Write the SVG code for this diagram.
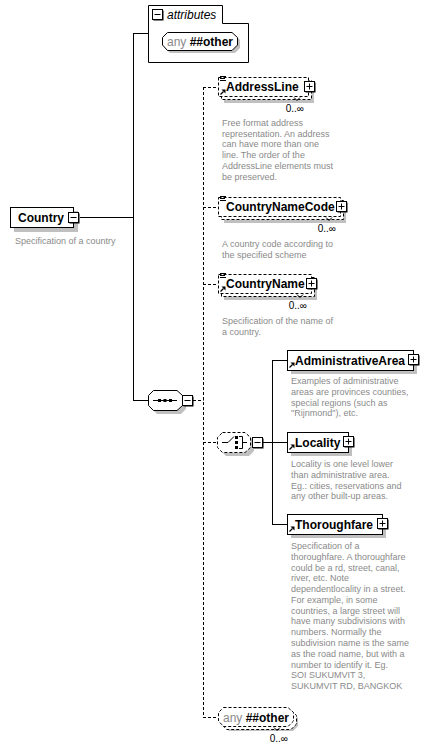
<svg xmlns="http://www.w3.org/2000/svg" xmlns:xlink="http://www.w3.org/1999/xlink" width="428" height="751" viewBox="0 0 428 751">
<style>
.box{fill:#fff;stroke:#000;stroke-width:1}
.dash{stroke-dasharray:3,2}
.shadow{fill:#c0c0c0}
.name{font-family:"Liberation Sans",Arial,sans-serif;font-weight:bold;font-size:12px;fill:#000}
.desc{font-family:"Liberation Sans",Arial,sans-serif;font-size:9px;fill:#8a8a8a}
.mult{font-family:"Liberation Sans",Arial,sans-serif;font-size:10px;fill:#000}
.any{font-family:"Liberation Sans",Arial,sans-serif;font-size:12px;fill:#8a8a8a}
.line{stroke:#000;fill:none;stroke-width:1}
.dline{stroke:#000;fill:none;stroke-width:1;stroke-dasharray:3,2}
.ico{stroke:#000;fill:none;stroke-width:1}
</style>
<defs>
<g id="plusIcon"><rect x="1.5" y="1.5" width="10" height="10" fill="#000"/><rect x="0.5" y="0.5" width="10" height="10" fill="#fff" stroke="#000"/><path d="M2.5,5.5H8.5M5.5,2.5V8.5" stroke="#000"/></g>
<g id="minusIcon"><rect x="1.5" y="1.5" width="10" height="10" fill="#000"/><rect x="0.5" y="0.5" width="10" height="10" fill="#fff" stroke="#000"/><path d="M2.5,5.5H8.5" stroke="#000"/></g>
<g id="lines"><path d="M0,0.5H6M0,2.5H5M0,4.5H6" stroke="#000" stroke-width="1"/></g>
<g id="refArrow"><path d="M0.5,5.5L3.5,2.5" stroke="#000" stroke-width="1.2"/><path d="M1.5,0.5H5.5V4.5Z" fill="#000"/></g>
</defs>

<g id="connectors">
<path class="line" d="M80,217.5H133.5M133.5,33V400.5M133,33.5H148M133,400.5H148"/>
<path class="dline" d="M193,400.5H203.5M203.5,87V717.5M203,87.5H218M203,207.5H218M203,284.5H218M203,442.5H217M203,717.5H218"/>
<path class="line" d="M263,442.5H272.5M272.5,360V524.5M272,360.5H287M272,442.5H287M272,524.5H287"/>
</g>

<g id="Country">
<rect class="shadow" x="14" y="211" width="64" height="21"/>
<rect class="box" x="10.5" y="207.5" width="63" height="20"/>
<text class="name" x="18" y="222">Country</text>
<use xlink:href="#minusIcon" x="68" y="212"/>
<text class="desc" x="15" y="244">Specification of a country</text>
</g>

<g id="attributes">
<path class="box" d="M148.5,5.5H222.5V23.5H248.5V62.5H148.5Z"/>
<use xlink:href="#minusIcon" x="152" y="9"/>
<text x="167" y="19" style="font-family:'Liberation Sans',Arial,sans-serif;font-style:italic;font-size:12px">attributes</text>
<path class="shadow" d="M170,35H235L240,40V48L235,53H170L165,48V40Z"/>
<path class="box" d="M167.5,32.5H232L237.5,37.5V45L232,50.5H167.5L162.5,45V37.5Z"/>
<text x="167" y="46"><tspan class="any">any </tspan><tspan class="name">##other</tspan></text>
</g>

<g id="sequence">
<path class="shadow" d="M157,394H181L186,399V409L181,414H157L152,409V399Z"/>
<path class="box" d="M153.5,390.5H177L182.5,395.5V405.5L177,410.5H153.5L148.5,405.5V395.5Z"/>
<path class="ico" d="M153,400.5H177"/>
<rect x="158" y="399" width="3" height="3" fill="#000"/>
<rect x="163.5" y="399" width="3" height="3" fill="#000"/>
<rect x="169" y="399" width="3" height="3" fill="#000"/>
<use xlink:href="#minusIcon" x="182" y="395"/>
</g>

<g id="AddressLine">
<rect class="shadow" x="224" y="83" width="90" height="20"/>
<rect class="box dash" x="221.5" y="80.5" width="90" height="19"/>
<rect class="box dash" x="218.5" y="77.5" width="90" height="19"/>
<use xlink:href="#lines" x="220" y="76"/>
<use xlink:href="#refArrow" x="220" y="89"/>
<text class="name" x="226" y="91">AddressLine</text>
<use xlink:href="#plusIcon" x="304" y="81"/>
<path class="ico" d="M294,97.5L297,100.5L300,97.5"/>
<text class="mult" x="304" y="112" text-anchor="end">0..∞</text>
<text class="desc"><tspan x="222" y="126">Free format address</tspan><tspan x="222" y="136.7">representation. An address</tspan><tspan x="222" y="147.4">can have more than one</tspan><tspan x="222" y="158.1">line. The order of the</tspan><tspan x="222" y="168.8">AddressLine elements must</tspan><tspan x="222" y="179.5">be preserved.</tspan></text>
</g>

<g id="CountryNameCode">
<rect class="shadow" x="224" y="203" width="122" height="20"/>
<rect class="box dash" x="221.5" y="200.5" width="122" height="19"/>
<rect class="box dash" x="218.5" y="197.5" width="122" height="19"/>
<use xlink:href="#lines" x="220" y="196"/>
<text class="name" x="226" y="211">CountryNameCode</text>
<use xlink:href="#plusIcon" x="336" y="201"/>
<path class="ico" d="M326,217.5L329,220.5L332,217.5"/>
<text class="mult" x="336" y="232" text-anchor="end">0..∞</text>
<text class="desc"><tspan x="222" y="247">A country code according to</tspan><tspan x="222" y="258">the specified scheme</tspan></text>
</g>

<g id="CountryName">
<rect class="shadow" x="224" y="280" width="93" height="20"/>
<rect class="box dash" x="221.5" y="277.5" width="93" height="19"/>
<rect class="box dash" x="218.5" y="274.5" width="93" height="19"/>
<use xlink:href="#lines" x="220" y="273"/>
<use xlink:href="#refArrow" x="220" y="286"/>
<text class="name" x="226" y="288">CountryName</text>
<use xlink:href="#plusIcon" x="306" y="278"/>
<path class="ico" d="M297,294.5L300,297.5L303,294.5"/>
<text class="mult" x="307" y="309" text-anchor="end">0..∞</text>
<text class="desc"><tspan x="222" y="324">Specification of the name of</tspan><tspan x="222" y="335">a country.</tspan></text>
</g>

<g id="choice">
<path class="shadow" d="M226,436H249L254,441V451L249,456H226L221,451V441Z"/>
<path class="box dash" d="M222.5,432.5H245L250.5,437.5V447.5L245,452.5H222.5L217.5,447.5V437.5Z"/>
<path class="ico" d="M222,442.5H228L234,436.5M239,436.5H242.5V448.5H239M242.5,442.5H247"/>
<rect x="235" y="436" width="3" height="3" fill="#000"/>
<rect x="235" y="441" width="3" height="3" fill="#000"/>
<rect x="235" y="446" width="3" height="3" fill="#000"/>
<use xlink:href="#minusIcon" x="252" y="437"/>
</g>

<g id="AdministrativeArea">
<rect class="shadow" x="291" y="354" width="126" height="20"/>
<rect class="box" x="287.5" y="350.5" width="126" height="20"/>
<use xlink:href="#refArrow" x="289" y="362"/>
<text class="name" x="295" y="365">AdministrativeArea</text>
<use xlink:href="#plusIcon" x="408" y="354"/>
<text class="desc"><tspan x="291" y="384">Examples of administrative</tspan><tspan x="291" y="394.8">areas are provinces counties,</tspan><tspan x="291" y="405.6">special regions (such as</tspan><tspan x="291" y="416.4">"Rijnmond"), etc.</tspan></text>
</g>

<g id="Locality">
<rect class="shadow" x="291" y="436" width="61" height="20"/>
<rect class="box" x="287.5" y="432.5" width="61" height="20"/>
<use xlink:href="#refArrow" x="289" y="444"/>
<text class="name" x="295" y="447">Locality</text>
<use xlink:href="#plusIcon" x="343" y="436"/>
<text class="desc"><tspan x="291" y="467">Locality is one level lower</tspan><tspan x="291" y="477.8">than administrative area.</tspan><tspan x="291" y="488.6">Eg.: cities, reservations and</tspan><tspan x="291" y="499.4">any other built-up areas.</tspan></text>
</g>

<g id="Thoroughfare">
<rect class="shadow" x="291" y="518" width="95" height="20"/>
<rect class="box" x="287.5" y="514.5" width="95" height="20"/>
<use xlink:href="#refArrow" x="289" y="526"/>
<text class="name" x="295" y="529">Thoroughfare</text>
<use xlink:href="#plusIcon" x="377" y="518"/>
<text class="desc"><tspan x="291" y="549">Specification of a</tspan><tspan x="291" y="559.8">thoroughfare. A thoroughfare</tspan><tspan x="291" y="570.5">could be a rd, street, canal,</tspan><tspan x="291" y="581.3">river, etc.  Note</tspan><tspan x="291" y="592.1">dependentlocality in a street.</tspan><tspan x="291" y="602.8">For example, in some</tspan><tspan x="291" y="613.6">countries, a large street will</tspan><tspan x="291" y="624.4">have many subdivisions with</tspan><tspan x="291" y="635.2">numbers. Normally the</tspan><tspan x="291" y="645.9">subdivision name is the same</tspan><tspan x="291" y="656.7">as the road name, but with a</tspan><tspan x="291" y="667.5">number to identify it. Eg.</tspan><tspan x="291" y="678.2">SOI SUKUMVIT 3,</tspan><tspan x="291" y="689">SUKUMVIT RD, BANGKOK</tspan></text>
</g>

<g id="anyOther">
<path class="shadow" d="M229,713H293L298,718V726L293,731H229L224,726V718Z"/>
<path class="box dash" d="M226.5,710.5H291L296.5,715.5V724L291,729.5H226.5L221.5,724V715.5Z"/>
<path class="box dash" d="M223.5,707.5H288L293.5,712.5V721L288,726.5H223.5L218.5,721V712.5Z"/>
<text x="223" y="722"><tspan class="any">any </tspan><tspan class="name">##other</tspan></text>
<path class="ico" d="M274,727.5L277,730.5L280,727.5"/>
<text class="mult" x="288" y="742" text-anchor="end">0..∞</text>
</g>
</svg>
